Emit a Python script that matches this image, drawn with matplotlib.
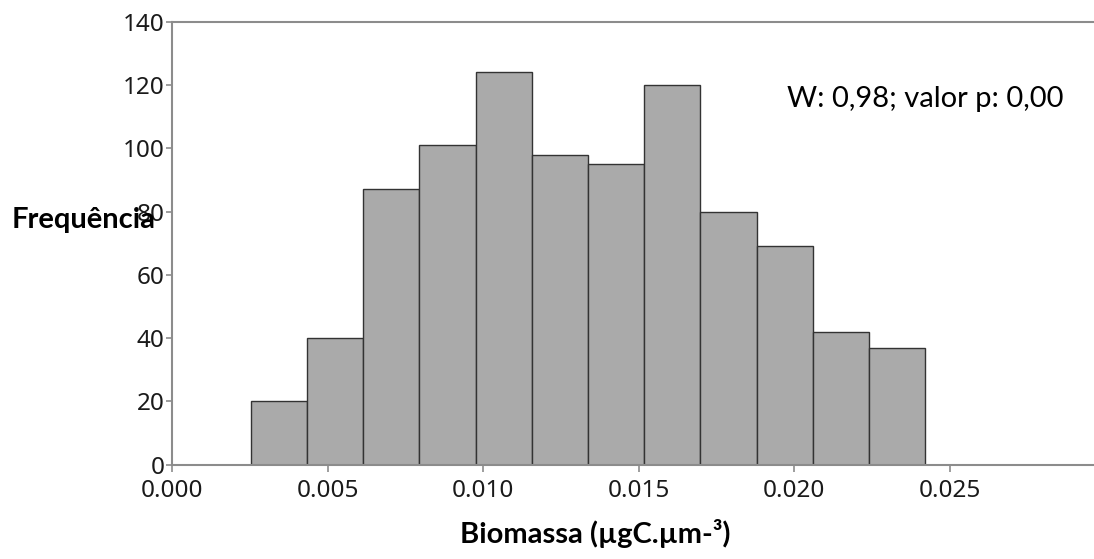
import matplotlib
matplotlib.use("Agg")
import matplotlib.pyplot as plt
import numpy as np

# histogram bins (biomass, ugC.um-3) and counts
bin_start = 0.002529
bin_width = 0.0018064
counts = [20, 40, 87, 101, 124, 98, 95, 120, 80, 69, 42, 37]
x_ticks = [0.000, 0.005, 0.010, 0.015, 0.020, 0.025]
y_ticks = [0, 20, 40, 60, 80, 100, 120, 140]
stat_text = "W: 0,98; valor p: 0,00"

W, H = 1094, 559
fig = plt.figure(figsize=(W / 100, H / 100), dpi=100)
ax = fig.add_axes([172 / W, 94.3 / H, (1093 - 172) / W, (537.4 - 94.3) / H])

edges = bin_start + bin_width * np.arange(len(counts))
ax.bar(edges, counts, width=bin_width, align="edge",
       color="#aaaaaa", edgecolor="#333333", linewidth=1.0)

ax.set_xlim(0, 0.0296)
ax.set_ylim(0, 140)
ax.set_xticks(x_ticks)
ax.set_xticklabels([f"{v:.3f}" for v in x_ticks])
ax.set_yticks(y_ticks)

spine_col = "#8c8c8c"
for s in ["left", "bottom", "top"]:
    ax.spines[s].set_color(spine_col)
    ax.spines[s].set_linewidth(1.5)
ax.spines["right"].set_visible(False)
ax.tick_params(axis="both", colors=spine_col, labelcolor="#1a1a1a",
               labelsize=17.5, width=1.2)
ax.tick_params(axis="x", length=5, pad=5)
ax.tick_params(axis="y", length=4, pad=1.5)
for lab in ax.get_xticklabels() + ax.get_yticklabels():
    lab.set_family("Noto Sans")

fig.text(12 / W, 1 - 220 / H, "Frequência", ha="left", va="center",
         fontsize=21, fontweight="bold", family="Lato")
fig.text(595 / W, 1 - 533 / H, "Biomassa (µgC.µm-³)", ha="center", va="center",
         fontsize=21, fontweight="bold", family="Lato")
fig.text(787 / W, 1 - 107 / H, stat_text, ha="left", va="baseline",
         fontsize=21, family="Lato")

fig.savefig("out.png", dpi=100)
